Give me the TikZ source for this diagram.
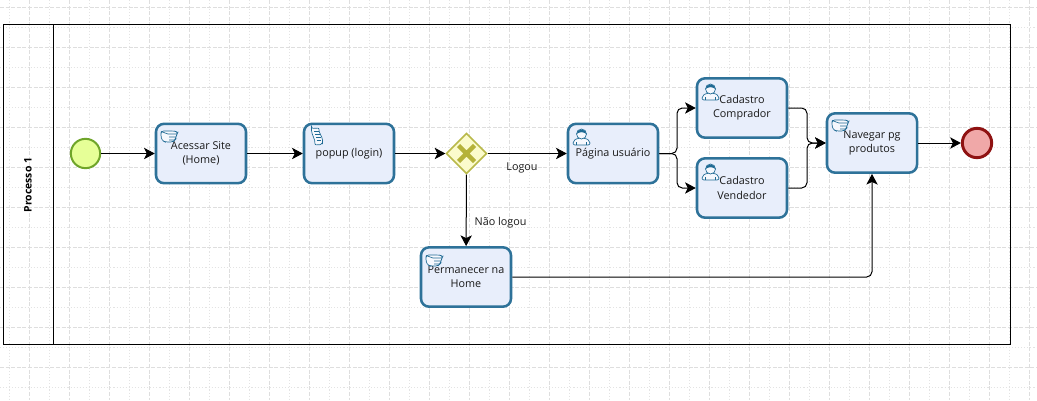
\documentclass[tikz,border=0pt]{standalone}
\usepackage{fontspec}
\setmainfont{Open Sans}
\usetikzlibrary{arrows.meta,shapes.geometric}
\definecolor{taskfill}{HTML}{E8EEFB}
\definecolor{taskline}{HTML}{2E7299}
\definecolor{iconline}{HTML}{1F6A94}
\definecolor{startfill}{HTML}{E6FF97}
\definecolor{startline}{HTML}{6FA52A}
\definecolor{endfill}{HTML}{F0A8A8}
\definecolor{endline}{HTML}{8F1212}
\definecolor{gatefill}{HTML}{FBFBCC}
\definecolor{gateline}{HTML}{B9B94A}
\definecolor{gatex}{HTML}{B5B23A}
\tikzset{
  x=0.75pt,y=-0.75pt,
  taskbox/.style={draw=taskline,line width=1.9pt,fill=taskfill,rounded corners=6pt,minimum width=67.5pt,minimum height=44.5pt,inner sep=0pt,align=center,font=\fontsize{8.1}{10.6}\selectfont,text=black!90},
  flow/.style={draw=black,line width=0.75pt,-{Stealth[length=8pt,width=8.5pt,inset=2pt]}},
  curved/.style={flow,rounded corners=4pt},
  lbl/.style={font=\fontsize{8.1}{10}\selectfont,text=black!90,inner sep=0pt},
  gridmaj/.style={draw=black!13,line width=0.7pt,dash pattern=on 3pt off 1.2pt},
  gridmin/.style={draw=black!11,line width=0.7pt,dash pattern=on 0.8pt off 1.5pt},
  icon/.style={draw=iconline,line width=0.5pt,fill=taskfill!40!white},
  pics/handicon/.style={code={
    \path[icon,rounded corners=2pt] (0,1) -- (13,1) -- (17,2) -- (16,4) -- (15,7) -- (14,10) -- (12,12) -- (4,12) -- (0.5,10) -- (0,5) -- cycle;
    \draw[iconline,line width=0.5pt] (7,4)--(16,4) (8,7)--(15,7) (8,10)--(14,10) (0,1.5) -- (7,4);
  }},
  pics/scripticon/.style={code={
    \path[icon,rounded corners=1.5pt] (0,0.5) -- (8,0) .. controls (7,4) and (11,9) .. (11,14) -- (11,16.5) -- (3,17) .. controls (4,12) and (0,6) .. (0,0.5) -- cycle;
    \draw[iconline,line width=0.5pt] (2.5,3)--(7.5,3) (3.5,6)--(8.5,6) (4.5,9)--(9.5,9) (5,12)--(9.5,12);
  }},
  pics/usericon/.style={code={
    \path[icon,rounded corners=1.5pt] (0,16) -- (0,12) -- (5,9) -- (12,9) -- (17,12) -- (17,16) -- cycle;
    \draw[iconline,line width=0.5pt] (3.5,16)--(3.5,12.5) (13.5,16)--(13.5,12.5);
    \path[icon] (8.5,5) circle[x radius=5,y radius=5];
    \path[fill=iconline] (3.6,5) .. controls (3.6,-1) and (13.4,-1) .. (13.4,5) .. controls (10.5,2.6) and (6.5,2.6) .. (3.6,5) -- cycle;
  }},
}
\begin{document}
\begin{tikzpicture}
\useasboundingbox (0,0) rectangle (1037,400);
\fill[white] (0,0) rectangle (1037,400);
% grid
\foreach \x in {29,69,...,1029} \draw[gridmaj] (\x,0) -- (\x,400);
\foreach \x in {9,49,...,1029} \draw[gridmin] (\x,0) -- (\x,400);
\foreach \y in {7,47,...,400} \draw[gridmaj] (0,\y) -- (1037,\y);
\foreach \y in {27,67,...,400} \draw[gridmin] (0,\y) -- (1037,\y);
% pool
\draw[black,line width=0.7pt] (3.5,24.5) rectangle (1010.5,344.5);
\draw[black,line width=0.7pt] (53,24.5) -- (53,344.5);
\node[rotate=90,font=\bfseries\fontsize{7.8}{9}\selectfont,inner sep=0pt] (pool) at (28,185) {Processo 1};
% events
\node[circle,draw=startline,line width=1.5pt,fill=startfill,minimum size=22pt,inner sep=0pt] (start) at (85.5,153.5) {};
\node[circle,draw=endline,line width=2.2pt,fill=endfill,minimum size=22pt,inner sep=0pt] (end) at (977,143) {};
% tasks
\node[taskbox] (a) at (201,153.5) {Acessar Site\\(Home)};
\node[taskbox] (b) at (349,153.5) {popup (login)};
\node[taskbox] (c) at (613,153.5) {Página usuário};
\node[taskbox] (d) at (742,108) {Cadastro\\Comprador};
\node[taskbox] (e) at (742,188) {Cadastro\\Vendedor};
\node[taskbox] (f) at (872,143) {Navegar pg\\produtos};
\node[taskbox] (h) at (466,277) {Permanecer na\\Home};
% icons
\pic at (161,130) {handicon};
\pic at (311.5,128) {scripticon};
\pic at (573,129) {usericon};
\pic at (702,84) {usericon};
\pic at (702,164) {usericon};
\pic at (832,119) {handicon};
\pic at (426,254) {handicon};
% gateway
\node[diamond,aspect=1,draw=gateline,line width=1.2pt,fill=gatefill,minimum size=30.5pt,inner sep=0pt] (g) at (466.5,153.5) {};
\draw[gatex,line width=3.4pt] (458.5,145.5) -- (474.5,161.5) (474.5,145.5) -- (458.5,161.5);
% split and merge points
\coordinate (split) at (677,153.5);
\coordinate (merge) at (807,143);
% connectors
\draw[flow] (start) -- (a);
\draw[flow] (a) -- (b);
\draw[flow] (b) -- (g);
\draw[flow] (g) -- (c);
\draw[flow] (g) -- (h);
\draw[curved] (c.east) -- (split) |- (d.west);
\draw[curved] (c.east) -- (split) |- (e.west);
\draw[curved] (d.east) -| (merge) -- (f.west);
\draw[curved] (e.east) -| (merge) -- (f.west);
\draw[curved] (h.east) -| (f.south);
\draw[flow] (f) -- (end);
% labels
\node[lbl] (logou) at (522,168) {Logou};
\node[lbl] (naologou) at (500.5,222.5) {Não logou};
\end{tikzpicture}
\end{document}
